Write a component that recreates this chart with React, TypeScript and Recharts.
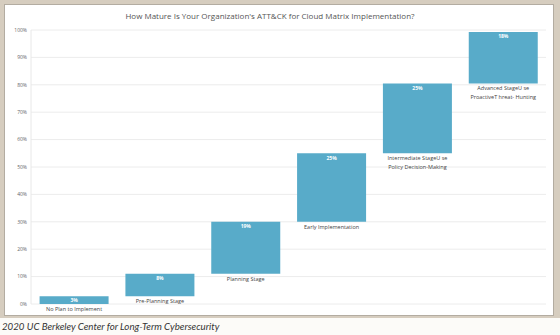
import { BarChart, Bar, XAxis, YAxis, CartesianGrid, LabelList } from 'recharts'

const stageLines = [
  ['No Plan to Implement'],
  ['Pre-Planning Stage'],
  ['Planning Stage'],
  ['Early Implementation'],
  ['Intermediate StageU se', 'Policy Decision-Making'],
  ['Advanced StageU se', 'ProactiveT hreat- Hunting'],
]
const shares = [2.8, 8.2, 19, 25, 25.5, 18.8]
const shareLabels = ['3%', '8%', '19%', '25%', '25%', '18%']
const yTicks = [0, 10, 20, 30, 40, 50, 60, 70, 80, 90, 100]

let running = 0
const data = shares.map((v, i) => {
  const row = { name: stageLines[i].join(' '), base: running, value: v }
  running += v
  return row
})

const BAR = '#58abc9'
const FONT = '"Open Sans", "Noto Sans", sans-serif'

function StepLabel(props: any) {
  const { x, y, width, height, index } = props
  const cx = x + width / 2
  const bottom = y + height
  const short = height < 10
  return (
    <g>
      <text
        x={cx}
        y={short ? y + height / 2 : y + 5}
        textAnchor="middle"
        dominantBaseline="middle"
        fill="#ffffff"
        fontSize={5}
        fontWeight={700}
        fontFamily={FONT}
      >
        {shareLabels[index]}
      </text>
      {stageLines[index].map((line, k) => (
        <text
          key={k}
          x={cx}
          y={bottom + 5.5 + k * 8.5}
          textAnchor="middle"
          dominantBaseline="middle"
          fill="#444"
          fontSize={5.5}
          fontFamily={FONT}
        >
          {line}
        </text>
      ))}
    </g>
  )
}

export default function App() {
  return (
    <div style={{ position: 'relative', width: 560, height: 335, background: '#fcfbf8', overflow: 'hidden' }}>
      <style>{'body{margin:0}'}</style>
      <div style={{ position: 'absolute', left: 0, top: 0, width: 560, height: 318, background: '#d6cdbf' }} />
      <div
        style={{
          position: 'absolute',
          left: 4,
          top: 4,
          width: 548,
          height: 310,
          background: '#ffffff',
          border: '1px solid #b3aca1',
        }}
      />
      <div
        style={{
          position: 'absolute',
          left: -10,
          top: 10,
          width: 560,
          textAlign: 'center',
          fontFamily: FONT,
          fontSize: 8,
          color: '#555',
        }}
      >
        How Mature Is Your Organization's ATT&CK for Cloud Matrix Implementation?
      </div>
      <div style={{ position: 'absolute', left: 0, top: 0 }}>
        <BarChart width={560} height={335} data={data} margin={{ top: 30, right: 14, bottom: 31, left: 0 }}>
          <CartesianGrid vertical={false} stroke="#ececec" />
          <XAxis dataKey="name" hide />
          <YAxis
            width={31}
            domain={[0, 100]}
            ticks={yTicks}
            tickFormatter={(v) => `${v}%`}
            tickLine={false}
            tickSize={0}
            tickMargin={4}
            axisLine={{ stroke: '#e8e8e8' }}
            tick={{ fontSize: 5, fill: '#666', fontFamily: FONT }}
          />
          <Bar dataKey="base" stackId="w" fill="transparent" isAnimationActive={false} />
          <Bar dataKey="value" stackId="w" fill={BAR} barSize={64} isAnimationActive={false}>
            <LabelList dataKey="value" content={StepLabel} />
          </Bar>
        </BarChart>
      </div>
      <div
        style={{
          position: 'absolute',
          left: 2,
          top: 320,
          fontFamily: 'Lato, "Open Sans", sans-serif',
          fontStyle: 'italic',
          fontSize: 9.7,
          color: '#333',
        }}
      >
        2020 UC Berkeley Center for Long-Term Cybersecurity
      </div>
    </div>
  )
}
